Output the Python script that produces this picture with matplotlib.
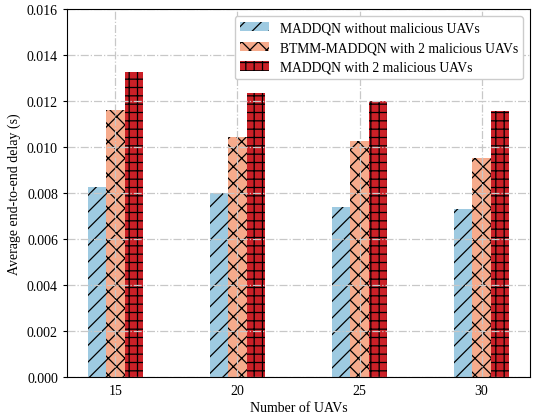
import matplotlib
matplotlib.use('Agg')
import matplotlib.pyplot as plt
import numpy as np

uav_counts = ['15', '20', '25', '30']
delay_no_malicious = [0.00827, 0.00799, 0.00739, 0.00731]
delay_btmm = [0.01161, 0.01045, 0.01027, 0.00952]
delay_maddqn_malicious = [0.01327, 0.01233, 0.01200, 0.01157]
series_labels = ['MADDQN without malicious UAVs',
                 'BTMM-MADDQN with 2 malicious UAVs',
                 'MADDQN with 2 malicious UAVs']

plt.rcParams['font.family'] = ['Liberation Serif', 'DejaVu Serif']
plt.rcParams['hatch.linewidth'] = 0.9

dpi = 100
fig, ax = plt.subplots(figsize=(533 / dpi, 414 / dpi), dpi=dpi)
fig.subplots_adjust(left=67 / 533, right=530 / 533, top=1 - 10 / 414, bottom=1 - 378 / 414)

x = np.arange(len(uav_counts))
width = 0.15
colors = ['#9ecae1', '#f6ab8c', '#cb2027']
hatches = ['//', 'xx', '++']
series = [delay_no_malicious, delay_btmm, delay_maddqn_malicious]

for i, (vals, color, hatch, label) in enumerate(zip(series, colors, hatches, series_labels)):
    ax.bar(x + (i - 1) * width, vals, width, color=color, hatch=hatch,
           edgecolor='black', linewidth=0, label=label)

ax.set_xticks(x)
ax.set_xticklabels(uav_counts)
ax.set_ylim(0, 0.016)
ax.set_yticks(np.arange(0, 0.0161, 0.002))
ax.yaxis.set_major_formatter(matplotlib.ticker.FormatStrFormatter('%.3f'))
ax.tick_params(labelsize=10, length=3, width=0.8)
ax.tick_params(axis='x', length=0, pad=5)

ax.set_xlabel('Number of UAVs', fontsize=10, labelpad=3)
ax.set_ylabel('Average end-to-end delay (s)', fontsize=10)
ax.grid(True, linestyle='-.', color='#c8c8c8', linewidth=0.9)

ax.legend(loc='upper right', fontsize=9.8, framealpha=1.0, edgecolor='#cccccc',
          handlelength=2.1, borderaxespad=0.5)

plt.savefig('out.png', dpi=dpi)
